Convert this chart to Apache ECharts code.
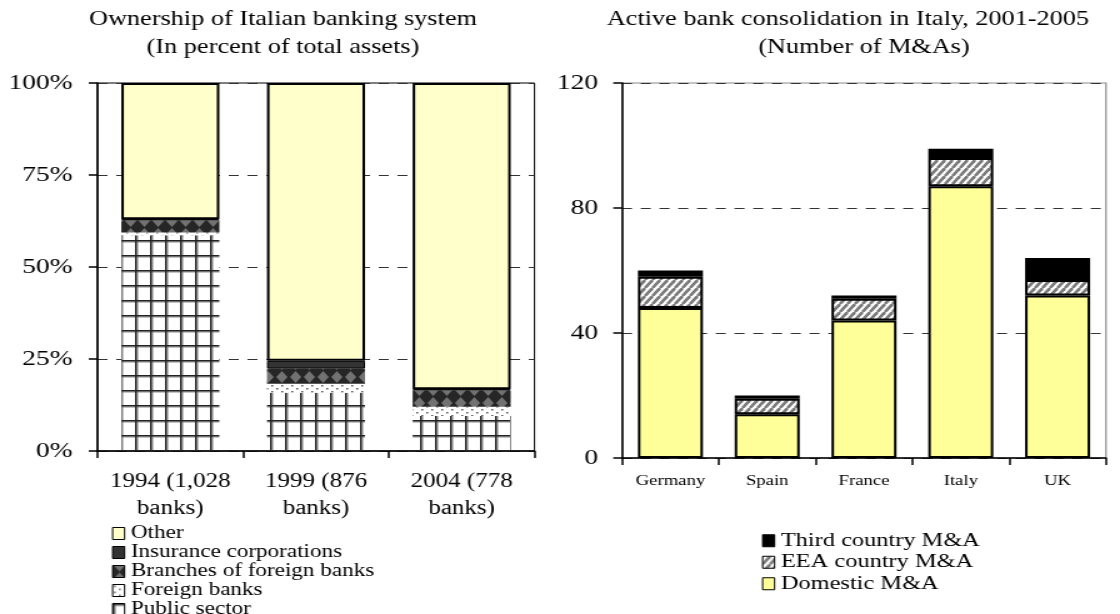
<!DOCTYPE html>
<html>
<head>
<meta charset="utf-8">
<script src="https://cdn.jsdelivr.net/npm/echarts/dist/echarts.min.js"></script>
<style>
  html, body { margin: 0; padding: 0; background: #fff; overflow: hidden; width: 1120px; height: 614px; }
  /* The chart is laid out on a narrower canvas and widened, giving the broad serif lettering. */
  #chart { width: 896px; height: 614px; transform: scaleX(1.25); transform-origin: 0 0; }
</style>
</head>
<body>
<div id="chart"></div>
<script>
// ---- Ownership of the Italian banking system (% of total assets) ----
const ownershipYears = ['1994 (1,028\nbanks)', '1999 (876\nbanks)', '2004 (778\nbanks)'];
const publicSector     = [58.6, 15.8, 9.5];
const foreignBanks     = [0.8, 2.5, 2.5];
const foreignBranches  = [3.3, 4.1, 4.5];
const insuranceCorps   = [0.3, 2.1, 0.3];
const otherOwners      = [37.0, 75.5, 83.2];

// ---- Bank M&As, 2001-2005 ----
const countries       = ['Germany', 'Spain', 'France', 'Italy', 'UK'];
const domesticMA      = [48, 14, 44, 87, 52];
const eeaMA           = [10, 5, 7, 9, 5];
const thirdCountryMA  = [2, 1, 1, 3, 7];

const STRETCH = 1.25;
const W = 896, H = 614;
const sx = v => v / STRETCH;           // page x -> canvas x
const FONT = "'Liberation Serif', 'DejaVu Serif', 'Times New Roman', serif";

function tile(w, h, draw) {
  const c = document.createElement('canvas');
  c.width = w; c.height = h;
  const g = c.getContext('2d');
  draw(g, w, h);
  return { image: c, repeat: 'repeat' };
}

// Square grid for the public sector
const gridFill = tile(12, 15, (g, w, h) => {
  g.fillStyle = '#fff'; g.fillRect(0, 0, w, h);
  g.fillStyle = '#8a8a8a'; g.fillRect(1.5, 0, 1, h); g.fillRect(0, 1.5, w, 1);
  g.fillStyle = '#222'; g.fillRect(0, 0, 1.5, h); g.fillRect(0, 0, w, 1.5);
});
// Sparse dots for foreign banks
const dotFill = tile(8, 6, (g, w, h) => {
  g.fillStyle = '#fff'; g.fillRect(0, 0, w, h);
  g.fillStyle = '#555'; g.fillRect(1, 1, 1.5, 1.5); g.fillRect(5, 4, 1.5, 1.5);
});
// Dark diamonds for branches of foreign banks
const diamondFill = tile(11, 13, (g, w, h) => {
  g.fillStyle = '#262626'; g.fillRect(0, 0, w, h);
  g.fillStyle = '#727272';
  g.beginPath(); g.moveTo(1, 0); g.lineTo(10, 0); g.lineTo(5.5, 6); g.closePath(); g.fill();
  g.beginPath(); g.moveTo(5.5, 7); g.lineTo(10, 13); g.lineTo(1, 13); g.closePath(); g.fill();
});
// Diagonal hatch for EEA country M&As
const hatchFill = tile(6, 8, (g, w, h) => {
  g.fillStyle = '#fff'; g.fillRect(0, 0, w, h);
  g.strokeStyle = '#7a7a7a'; g.lineWidth = 2.6;
  for (let k = -1; k <= 1; k++) {
    g.beginPath(); g.moveTo(k * w, h); g.lineTo(k * w + w, 0); g.stroke();
  }
});

const axisText = { color: '#000', fontFamily: FONT };
const blackLine = { color: '#000', width: 1.5 };
const dashLine = { color: '#333', width: 1, type: [8, 7] };

const leftGrid = { left: sx(97.5), right: W - sx(534.5), top: 83, bottom: H - 451 };
const rightGrid = { left: sx(622), right: W - sx(1106), top: 83, bottom: H - 458 };

function bar(name, data, color, axis, stack, border, width) {
  return {
    name, type: 'bar', data, stack,
    xAxisIndex: axis, yAxisIndex: axis,
    barWidth: width,
    itemStyle: { color, borderColor: '#000', borderWidth: border },
    emphasis: { disabled: true }
  };
}

function legendBlock(left, top, rowHeight, fontSize, names) {
  return {
    orient: 'vertical', left, top, height: 200, itemGap: 0, padding: 0,
    icon: 'rect', itemWidth: sx(12), itemHeight: 12,
    data: names,
    itemStyle: { borderColor: '#000', borderWidth: 1 },
    textStyle: { fontSize, lineHeight: rowHeight, color: '#000', fontFamily: FONT },
    selectedMode: false
  };
}

function titleLine(x, y, text) {
  return { type: 'text', x: sx(x), y, style: { text, align: 'center', verticalAlign: 'middle', font: `21px ${FONT}`, fill: '#000' } };
}

const chart = echarts.init(document.getElementById('chart'));
chart.setOption({
  animation: false,
  backgroundColor: '#fff',
  textStyle: { fontFamily: FONT },
  graphic: [
    titleLine(283, 19, 'Ownership of Italian banking system'),
    titleLine(283, 47, '(In percent of total assets)'),
    titleLine(848, 19, 'Active bank consolidation in Italy, 2001-2005'),
    titleLine(864, 47, '(Number of M&As)')
  ],
  grid: [
    Object.assign({ show: true, borderColor: '#000', borderWidth: 1 }, leftGrid),
    Object.assign({ show: true, borderColor: '#8a8a8a', borderWidth: 1.2 }, rightGrid)
  ],
  legend: [
    legendBlock(sx(112), 524, 17.8, 18.5,
      ['Other', 'Insurance corporations', 'Branches of foreign banks', 'Foreign banks', 'Public sector']),
    legendBlock(sx(762), 530, 21.5, 19.5,
      ['Third country M&A', 'EEA country M&A', 'Domestic M&A'])
  ],
  xAxis: [
    {
      type: 'category', gridIndex: 0, data: ownershipYears,
      axisLine: { lineStyle: blackLine },
      axisTick: { show: true, length: 7, lineStyle: blackLine },
      axisLabel: Object.assign({ fontSize: 20, lineHeight: 27, margin: 17, interval: 0 }, axisText)
    },
    {
      type: 'category', gridIndex: 1, data: countries,
      axisLine: { lineStyle: blackLine },
      axisTick: { show: true, length: 7, lineStyle: blackLine },
      axisLabel: Object.assign({ fontSize: 15, margin: 16, interval: 0 }, axisText)
    }
  ],
  yAxis: [
    {
      type: 'value', gridIndex: 0, min: 0, max: 100, interval: 25,
      axisLine: { show: true, lineStyle: blackLine },
      axisTick: { show: true, length: 7, lineStyle: blackLine },
      axisLabel: Object.assign({ fontSize: 22, margin: 20, formatter: '{value}%' }, axisText),
      splitLine: { show: true, lineStyle: dashLine }
    },
    {
      type: 'value', gridIndex: 1, min: 0, max: 120, interval: 40,
      axisLine: { show: true, lineStyle: blackLine },
      axisTick: { show: true, length: 7, lineStyle: blackLine },
      axisLabel: Object.assign({ fontSize: 22, margin: 19 }, axisText),
      splitLine: { show: true, lineStyle: dashLine }
    }
  ],
  series: [
    bar('Public sector', publicSector, gridFill, 0, 'own', 0, sx(98)),
    bar('Foreign banks', foreignBanks, dotFill, 0, 'own', 0, sx(98)),
    bar('Branches of foreign banks', foreignBranches, diamondFill, 0, 'own', 0, sx(98)),
    bar('Insurance corporations', insuranceCorps, '#333333', 0, 'own', 1, sx(98)),
    bar('Other', otherOwners, '#ffffcc', 0, 'own', 2, sx(98)),
    bar('Domestic M&A', domesticMA, '#ffff99', 1, 'ma', 2, sx(65)),
    bar('EEA country M&A', eeaMA, hatchFill, 1, 'ma', 2, sx(65)),
    bar('Third country M&A', thirdCountryMA, '#000000', 1, 'ma', 2, sx(65))
  ]
});
</script>
</body>
</html>
